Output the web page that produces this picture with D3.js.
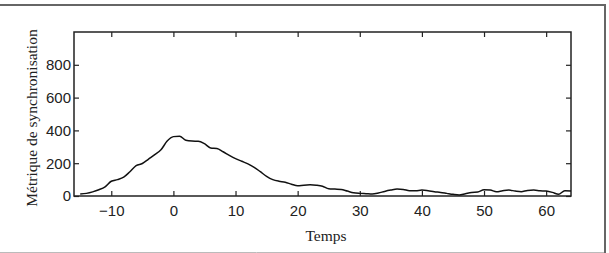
<!DOCTYPE html>
<html>
<head>
<meta charset="utf-8">
<script src="https://cdn.jsdelivr.net/npm/d3@7"></script>
<style>
  html, body { margin: 0; padding: 0; background: #fff; }
  svg { display: block; }
</style>
</head>
<body>
<svg width="609" height="253"></svg>
<script>
const svg = d3.select("svg");

// data
const time = d3.range(-15, 65);
const metric = [12, 16, 25, 38, 56, 90, 100, 115, 148, 185,
                198, 225, 252, 282, 335, 362, 365, 340, 335, 334,
                319, 293, 290, 270, 248, 228, 212, 196, 175, 148,
                120, 100, 90, 84, 72, 62, 66, 68, 66, 60,
                44, 42, 40, 30, 20, 16, 14, 12, 18, 28,
                36, 42, 40, 32, 32, 36, 32, 26, 22, 16,
                10, 6, 14, 22, 24, 38, 36, 26, 32, 36,
                30, 26, 34, 36, 32, 30, 22, 10, 32, 30];
const xTicks = [-10, 0, 10, 20, 30, 40, 50, 60];
const yTicks = [0, 200, 400, 600, 800];

// frame around the figure
svg.append("line").attr("x1", 0).attr("y1", 5).attr("x2", 605).attr("y2", 5)
   .attr("stroke", "#666").attr("stroke-width", 2);
svg.append("line").attr("x1", 605).attr("y1", 4).attr("x2", 605).attr("y2", 253)
   .attr("stroke", "#666").attr("stroke-width", 2);
svg.append("line").attr("x1", 0).attr("y1", 252.5).attr("x2", 604).attr("y2", 252.5)
   .attr("stroke", "#bbb").attr("stroke-width", 1);

const plotL = 74, plotR = 571, plotT = 32, plotB = 196;

const x = d3.scaleLinear().domain([-16, 64]).range([plotL, plotR]);
const y = d3.scaleLinear().domain([0, 1000]).range([plotB, plotT]);

const tickFont = "'Liberation Sans', Arial, sans-serif";

// bottom axis (ticks inward)
const gx = svg.append("g").attr("transform", `translate(0,${plotB})`)
   .call(d3.axisBottom(x).tickValues(xTicks).tickSizeInner(-5).tickSizeOuter(0)
      .tickPadding(9).tickFormat(d => d < 0 ? "\u2212" + Math.abs(d) : d));
// top axis ticks
const gxt = svg.append("g").attr("transform", `translate(0,${plotT})`)
   .call(d3.axisTop(x).tickValues(xTicks).tickSizeInner(-5).tickSizeOuter(0).tickFormat(""));
// left axis
const gy = svg.append("g").attr("transform", `translate(${plotL},0)`)
   .call(d3.axisLeft(y).tickValues(yTicks).tickSizeInner(-5).tickSizeOuter(0).tickPadding(3));
// right axis ticks
const gyr = svg.append("g").attr("transform", `translate(${plotR},0)`)
   .call(d3.axisRight(y).tickValues(yTicks).tickSizeInner(-5).tickSizeOuter(0).tickFormat(""));

[gx, gxt, gy, gyr].forEach(g => {
  g.select(".domain").remove();
  g.selectAll(".tick line").attr("stroke", "#222").attr("stroke-width", 1.2);
  g.selectAll("text").attr("font-family", tickFont).attr("font-size", 15).attr("fill", "#222");
});

// box
svg.append("rect")
   .attr("x", plotL).attr("y", plotT)
   .attr("width", plotR - plotL).attr("height", plotB - plotT)
   .attr("fill", "none").attr("stroke", "#222").attr("stroke-width", 1.5);

// curve
const line = d3.line()
   .x((d, i) => x(time[i]))
   .y(d => y(d))
   .curve(d3.curveMonotoneX);

svg.append("path")
   .datum(metric)
   .attr("d", line)
   .attr("fill", "none")
   .attr("stroke", "#111")
   .attr("stroke-width", 1.5);

// axis titles
svg.append("text")
   .attr("x", 326)
   .attr("y", 241)
   .attr("text-anchor", "middle")
   .attr("font-family", "'Liberation Serif', 'Times New Roman', serif")
   .attr("font-size", 15.5)
   .attr("fill", "#222")
   .text("Temps");

svg.append("text")
   .attr("transform", "translate(37,118) rotate(-90)")
   .attr("text-anchor", "middle")
   .attr("font-family", "'Liberation Serif', 'Times New Roman', serif")
   .attr("font-size", 15.5)
   .attr("fill", "#222")
   .text("Métrique de synchronisation");
</script>
</body>
</html>
